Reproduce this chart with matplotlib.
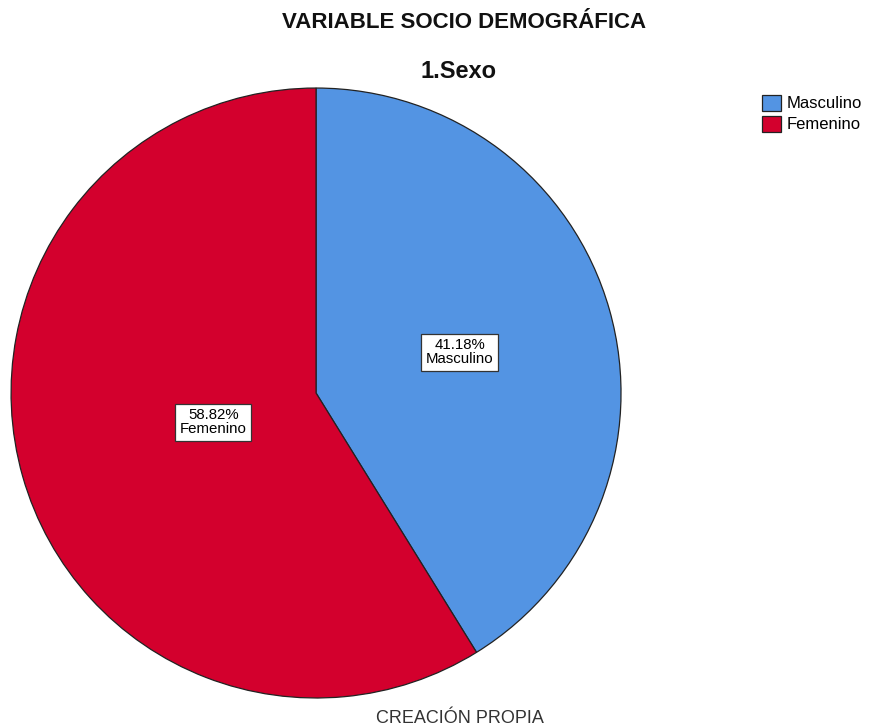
import numpy as np
import matplotlib.pyplot as plt
from matplotlib.patches import Patch

plt.rcParams['font.family'] = ['Liberation Sans', 'DejaVu Sans']

# data
categories = ['Masculino', 'Femenino']
percentages = [41.18, 58.82]
colors = ['#5394E3', '#D3002D']
label_radius = [0.49, 0.35]

fig = plt.figure(figsize=(8.71, 7.27), dpi=100)
ax = fig.add_axes([0.0127, 0.0399, 0.7003, 0.839])

wedges, _ = ax.pie(percentages, colors=colors, startangle=90, counterclock=False,
                   radius=1.0, wedgeprops=dict(edgecolor='#222222', linewidth=0.9))
ax.set_xlim(-1.0, 1.0)
ax.set_ylim(-1.0, 1.0)
ax.set_aspect('auto')
ax.axis('off')

for w, cat, pct, r in zip(wedges, categories, percentages, label_radius):
    ang = np.deg2rad((w.theta1 + w.theta2) / 2)
    ax.text(r * np.cos(ang), r * np.sin(ang), '%.2f%%\n%s' % (pct, cat),
            ha='center', va='center', fontsize=10.8, linespacing=1.0,
            bbox=dict(boxstyle='square,pad=0.3', facecolor='white', edgecolor='#333333', linewidth=0.9))

fig.text(0.533, 0.969, 'VARIABLE SOCIO DEMOGRÁFICA', ha='center', va='center',
         fontsize=16, fontweight='bold', color='#111111')
fig.text(0.526, 0.901, '1.Sexo', ha='center', va='center',
         fontsize=17, fontweight='bold', color='#111111')
fig.text(0.528, 0.012, 'CREACIÓN PROPIA', ha='center', va='center',
         fontsize=13, color='#333333')

handles = [Patch(facecolor=c, edgecolor='#222222', linewidth=0.9) for c in colors]
fig.legend(handles, categories, loc='upper left', bbox_to_anchor=(0.873, 0.872),
           frameon=False, fontsize=12, handlelength=1.15, handleheight=1.1,
           handletextpad=0.35, labelspacing=0.25, borderpad=0.1, borderaxespad=0)

fig.savefig('out.png', dpi=100)
